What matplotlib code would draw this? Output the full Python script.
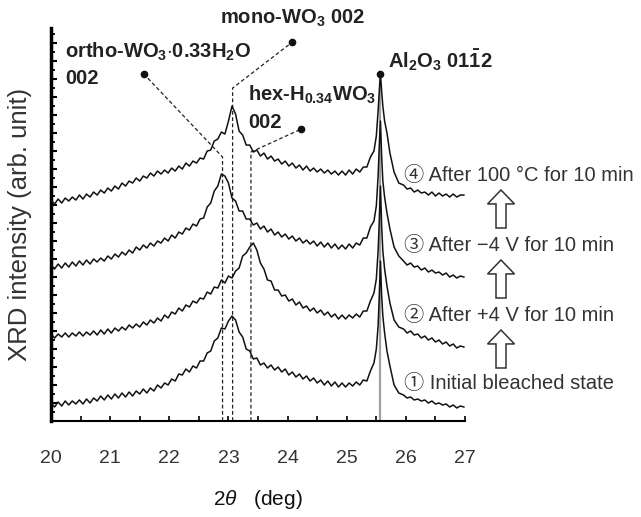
import matplotlib
matplotlib.use("Agg")
import matplotlib.pyplot as plt
from matplotlib.patches import FancyArrow
from matplotlib.ticker import MultipleLocator

plt.rcParams['font.family'] = ['Liberation Sans', 'Noto Sans CJK JP', 'DejaVu Sans']
plt.rcParams['mathtext.fontset'] = 'custom'
plt.rcParams['mathtext.rm'] = 'Liberation Sans'
plt.rcParams['mathtext.it'] = 'Liberation Sans:italic'
plt.rcParams['mathtext.bf'] = 'Liberation Sans:bold'

# 2theta sampling (deg): fringe region, Al2O3 peak, tail
tt_fringe = [20.00, 20.06, 20.12, 20.18, 20.24, 20.30, 20.36, 20.42, 20.48, 20.54,
             20.60, 20.66, 20.72, 20.78, 20.84, 20.90, 20.96, 21.02, 21.08, 21.14,
             21.20, 21.26, 21.32, 21.38, 21.44, 21.50, 21.56, 21.62, 21.68, 21.74,
             21.80, 21.86, 21.92, 21.98, 22.04, 22.10, 22.16, 22.22, 22.28, 22.34,
             22.40, 22.46, 22.52, 22.58, 22.64, 22.70, 22.76, 22.82, 22.88, 22.94,
             23.00, 23.06, 23.12, 23.18, 23.24, 23.30, 23.36, 23.42, 23.48, 23.54,
             23.60, 23.66, 23.72, 23.78, 23.84, 23.90, 23.96, 24.02, 24.08, 24.14,
             24.20, 24.26, 24.32, 24.38, 24.44, 24.50, 24.56, 24.62, 24.68, 24.74,
             24.80, 24.86, 24.92, 24.98, 25.04, 25.10, 25.16, 25.22, 25.28, 25.34,
             25.40]
tt_peak = [25.46, 25.50, 25.53, 25.55, 25.57, 25.59, 25.61, 25.64, 25.68, 25.73, 25.80, 25.88]
tt_tail = [25.96, 26.02, 26.08, 26.14, 26.20, 26.26, 26.32, 26.38, 26.44, 26.50,
           26.56, 26.62, 26.68, 26.74, 26.80, 26.86, 26.92, 26.98]
two_theta = tt_fringe + tt_peak + tt_tail

# intensities (arb. unit, offset stacked)
initial = [18, 14, 19, 15, 20, 16, 20, 17, 21, 17,
           22, 18, 23, 20, 25, 21, 26, 22, 27, 23,
           28, 24, 29, 25, 30, 27, 32, 28, 33, 30,
           36, 33, 38, 36, 42, 40, 47, 46, 52, 49,
           55, 53, 60, 60, 68, 70, 80, 83, 93, 92,
           100, 105, 101, 89, 84, 72, 70, 62, 63, 56,
           58, 53, 56, 51, 54, 49, 52, 46, 49, 44,
           47, 42, 45, 40, 43, 38, 41, 36, 40, 35,
           39, 34, 38, 34, 38, 35, 39, 36, 41, 40,
           50,
           58, 72, 95, 125, 160, 125, 105, 88, 70, 55, 36, 28,
           26, 23, 24, 21, 22, 20, 21, 18, 20, 17, 18, 16, 17, 14, 16, 13, 15, 14]
plus4v = [87, 83, 87, 84, 88, 84, 88, 85, 89, 85,
          89, 86, 90, 86, 91, 87, 92, 88, 93, 90,
          94, 91, 96, 93, 97, 94, 99, 96, 101, 98,
          103, 100, 106, 103, 109, 107, 113, 110, 116, 114,
          120, 118, 123, 122, 129, 127, 134, 133, 141, 138,
          145, 143, 150, 153, 165, 168, 174, 178, 171, 158,
          152, 141, 140, 131, 131, 125, 126, 120, 122, 116,
          119, 113, 115, 110, 113, 108, 111, 106, 109, 104,
          107, 102, 106, 102, 106, 103, 107, 104, 110, 110,
          120,
          128, 142, 170, 200, 235, 195, 170, 152, 135, 118, 101, 94,
          92, 88, 90, 86, 87, 83, 85, 81, 83, 79, 81, 77, 79, 75, 77, 73, 75, 74]
minus4v = [156, 152, 157, 153, 158, 154, 159, 155, 160, 156,
           161, 157, 162, 159, 163, 160, 165, 162, 167, 164,
           169, 166, 171, 168, 174, 171, 176, 173, 178, 175,
           180, 178, 183, 180, 186, 183, 189, 187, 193, 191,
           197, 195, 202, 203, 214, 218, 230, 235, 247, 245,
           238, 223, 220, 210, 210, 202, 202, 196, 198, 192,
           195, 189, 192, 186, 189, 184, 187, 182, 185, 180,
           183, 178, 181, 177, 180, 175, 179, 174, 178, 173,
           177, 172, 176, 172, 177, 173, 178, 176, 183, 183,
           194,
           200, 215, 245, 275, 300, 265, 240, 224, 208, 192, 174, 165,
           160, 156, 158, 154, 155, 151, 153, 149, 151, 148, 149, 146, 148, 144, 146, 143, 145, 144]
heated = [221, 217, 222, 218, 223, 220, 224, 221, 226, 222,
          227, 224, 229, 226, 231, 228, 233, 230, 235, 232,
          238, 235, 240, 238, 243, 240, 245, 243, 248, 245,
          250, 247, 251, 248, 253, 250, 255, 252, 258, 255,
          260, 258, 263, 262, 270, 271, 280, 282, 289, 287,
          300, 315, 307, 290, 286, 276, 276, 269, 271, 265,
          268, 262, 265, 260, 262, 257, 260, 255, 258, 253,
          256, 251, 255, 250, 253, 249, 252, 248, 251, 247,
          250, 246, 250, 246, 251, 247, 252, 249, 254, 254,
          264,
          270, 285, 310, 330, 347, 330, 315, 300, 288, 268, 249, 238,
          236, 232, 233, 229, 231, 228, 229, 226, 229, 225, 228, 225, 227, 224, 227, 224, 226, 226]

curves = [initial, plus4v, minus4v, heated]
state_labels = ["\u2460 Initial bleached state", "\u2461 After +4 V for 10 min",
                "\u2462 After \u22124 V for 10 min", "\u2463 After 100 \u00b0C for 10 min"]

# reflection positions (deg)
ortho_pos = 22.90
mono_pos = 23.07
hex_pos = 23.38
al2o3_pos = 25.57
al2o3_top = 347

fig = plt.figure(figsize=(6.41, 5.17), dpi=100)
ax = fig.add_axes([0.0796, 0.1857, 0.6459, 0.760])

ax.plot([al2o3_pos, al2o3_pos], [0, al2o3_top], color='#a0a0a0', lw=1.6, zorder=1)
for c in curves:
    ax.plot(two_theta, c, color='#111111', lw=1.1, zorder=3)

# dashed guide lines to the labels
dash = dict(color='#222222', lw=0.9, ls=(0, (3, 2)), zorder=2)
ax.plot([ortho_pos, ortho_pos, 21.57], [0, 264, 347], **dash)
ax.plot([mono_pos, mono_pos, 24.08], [0, 333, 379], **dash)
ax.plot([hex_pos, hex_pos, 24.23], [0, 269, 292], **dash)
ax.plot([21.57, 24.08, 24.23, al2o3_pos], [347, 379, 292, al2o3_top], 'o',
        color='#111111', ms=4.5, zorder=4, clip_on=False)

bold = dict(fontsize=14.5, fontweight='bold', color='#222222', va='center', ha='left')
ax.text(20.24, 369, r"ortho-WO$_\mathbf{3}$$\mathbf{\cdot}$0.33H$_\mathbf{2}$O", **bold)
ax.text(20.24, 343, "002", **bold)
ax.text(22.85, 403, r"mono-WO$_\mathbf{3}$ 002", **bold)
ax.text(23.33, 326, r"hex-H$_\mathbf{0.34}$WO$_\mathbf{3}$", **bold)
ax.text(23.33, 299, "002", **bold)
ax.text(25.70, 361, r"Al$_\mathbf{2}$O$_\mathbf{3}$ 01$\mathbf{\bar{1}}$2", **bold)

for lab, y in zip(state_labels, [38, 106, 176, 246]):
    ax.text(25.97, y, lab, fontsize=14.5, color='#333333', va='center', ha='left')

for yb in [0.2882, 0.4236, 0.559]:
    fig.add_artist(FancyArrow(0.7816, yb, 0, 0.0735, width=0.0156, head_width=0.042,
                              head_length=0.027, length_includes_head=True,
                              fc='white', ec='#333333', lw=1.1, transform=fig.transFigure))

ax.set_xlim(20, 27)
ax.set_ylim(0, 393)
ax.xaxis.set_major_locator(MultipleLocator(1))
ax.xaxis.set_minor_locator(MultipleLocator(0.5))
ax.yaxis.set_major_locator(MultipleLocator(18))
ax.yaxis.set_minor_locator(MultipleLocator(9))
ax.tick_params(axis='x', which='both', direction='in', length=3.5, width=1.2,
               labelsize=14, labelcolor='#333333', pad=21)
ax.tick_params(axis='y', which='major', direction='in', length=4, width=1.5, labelleft=False)
ax.tick_params(axis='y', which='minor', direction='in', length=3, width=1.3)
for s in ['top', 'right']:
    ax.spines[s].set_visible(False)
ax.spines['left'].set_linewidth(2.5)
ax.spines['bottom'].set_linewidth(1.5)

ax.set_xlabel(r"2$\mathit{\theta}$   (deg)", fontsize=15, color='#111111', labelpad=15)
ax.set_ylabel("XRD intensity (arb. unit)", fontsize=18.5, color='#333333', labelpad=10)

fig.savefig("out.png", dpi=100)
